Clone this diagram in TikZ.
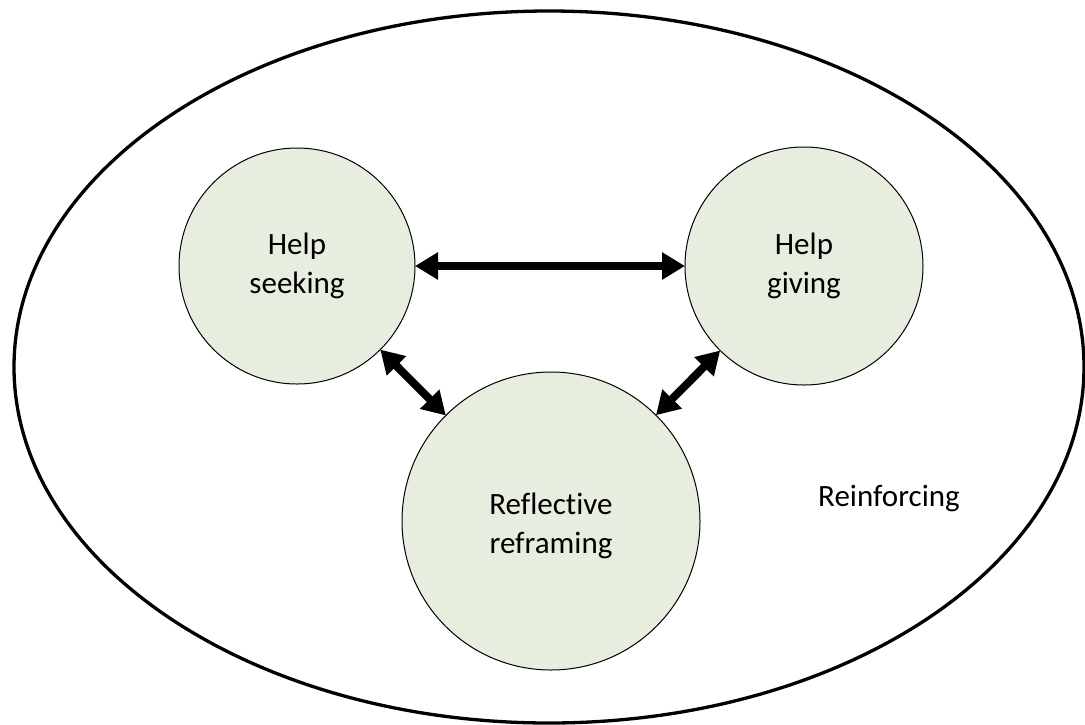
\documentclass[tikz,border=0pt]{standalone}
\usepackage{fontspec}
\setmainfont{Carlito}[Ligatures={NoCommon,NoRare}]
\usetikzlibrary{arrows.meta}
\definecolor{circfill}{HTML}{E8EEDF}
\tikzset{
  bubble/.style={circle, draw=black, line width=1pt, fill=circfill, inner sep=0pt, outer sep=0pt,
    align=center, font=\fontsize{31}{39}\selectfont},
  link/.style={line width=8pt, {Triangle[length=23pt,width=26pt]}-{Triangle[length=23pt,width=26pt]}},
  label/.style={font=\fontsize{31}{39}\selectfont, inner sep=0pt}
}
\begin{document}
\begin{tikzpicture}[x=1pt,y=-1pt]
\useasboundingbox (0,0) rectangle (1085,724);
\fill[white] (0,0) rectangle (1085,724);
\draw[line width=3.3pt] (549,367) ellipse [x radius=535pt, y radius=356pt];
\node[bubble, minimum size=236pt] (hs) at (297,266) {Help\\seeking};
\node[bubble, minimum size=238pt] (hg) at (804,266) {Help\\giving};
\node[bubble, minimum size=298pt] (rr) at (551,521) {};
\node[font=\fontsize{31}{39}\selectfont, align=center, inner sep=0pt] (rrt) at (551,526) {Reflective\\reframing};
\node[label] (rf) at (889,498) {Reinforcing};
\draw[link] (hs) -- (hg);
\draw[link] (hs) -- (rr);
\draw[link] (hg) -- (rr);
\end{tikzpicture}
\end{document}
